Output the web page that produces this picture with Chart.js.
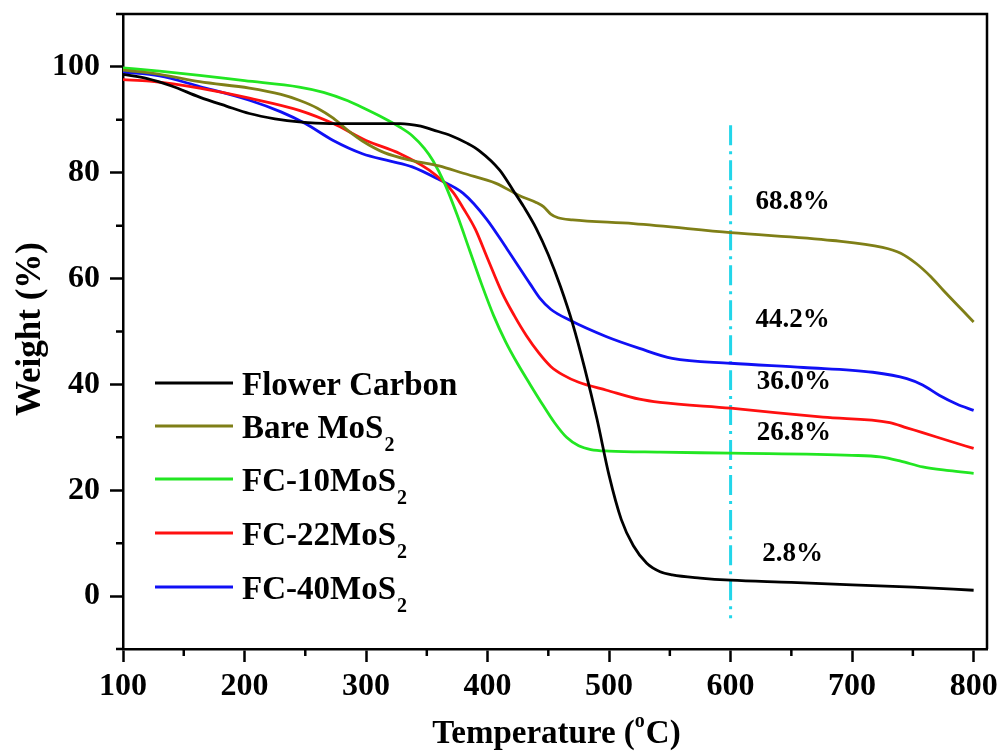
<!DOCTYPE html>
<html>
<head>
<meta charset="utf-8">
<script src="https://cdn.jsdelivr.net/npm/chart.js@4.4.1/dist/chart.umd.min.js"></script>
<style>
  html, body { margin: 0; padding: 0; background: #fff; }
  #tga { display: block; }
</style>
</head>
<body>
<canvas id="tga" width="1001" height="751"></canvas>
<script>
// TGA curves (temperature in degC, weight in %)
const flowerCarbonT = [100,120,140,163,185,204,225,245,270,300,328,345,355,370,383,393,410,421,430,440,450,460,470,480,490,500,510,520,531,542,552,575,600,650,700,750,800];
const flowerCarbonW = [98.6,97.8,96.4,94.3,92.6,91.2,90.2,89.6,89.3,89.3,89.3,88.8,88.1,87.0,85.6,84.2,80.5,76.7,73.5,69.5,64.5,58.5,51.5,43.0,33.5,22.8,14.5,9.5,6.2,4.6,4.0,3.4,3.0,2.6,2.1,1.7,1.1];

const bareMoS2T = [100,130,163,204,230,245,260,273,285,297,315,338,360,380,407,426,440,446,452,458,470,520,600,684,725,740,753,765,775,790,800];
const bareMoS2W = [99.4,98.6,97.2,96.0,94.8,93.7,92.2,90.3,88.0,86.0,83.8,82.3,81.3,79.9,78.0,75.7,74.4,73.6,72.2,71.5,71.1,70.4,68.7,67.2,65.9,64.8,62.8,60.3,57.8,54.2,51.8];

const fc10T = [100,130,163,200,245,265,285,300,314,328,338,348,355,365,375,385,395,405,415,425,435,445,455,465,475,485,500,542,600,700,723,740,758,780,800];
const fc10W = [99.8,99.2,98.4,97.4,96.2,95.2,93.6,92.0,90.4,88.6,87.0,84.6,82.3,77.8,72.0,65.5,59.0,53.0,48.0,43.8,40.0,36.3,32.8,30.0,28.4,27.7,27.4,27.2,27.0,26.6,26.3,25.5,24.4,23.7,23.2];

const fc22T = [100,122,163,204,245,273,300,328,352,365,372,380,390,400,412,422,432,442,452,462,475,498,525,542,600,676,731,745,758,780,800];
const fc22W = [97.6,97.3,96.0,94.1,91.8,89.3,86.1,83.6,80.5,78.0,76.2,73.3,69.3,63.8,57.3,53.0,49.2,46.0,43.4,41.8,40.4,38.9,37.2,36.6,35.5,33.8,32.8,31.8,30.9,29.3,27.9];

const fc40T = [100,130,163,204,230,250,273,297,320,338,360,380,399,416,435,443,452,467,498,525,552,600,660,717,745,758,772,786,800];
const fc40W = [99.0,98.3,96.3,93.7,91.5,89.3,86.1,83.6,82.2,81.1,78.7,76.1,71.3,65.6,59.0,56.3,54.2,52.2,49.0,46.8,44.9,44.0,43.2,42.3,41.1,39.9,37.9,36.3,35.1];

const seriesNames = ['Flower Carbon', 'Bare MoS2', 'FC-10MoS2', 'FC-22MoS2', 'FC-40MoS2'];
const seriesColors = ['#000000', '#7f7f17', '#22e622', '#ff1010', '#1010f5'];

// residue read at 600 degC
const markerT = [600, 600];
const markerW = [89, -4.2];
const residueText = ['68.8%', '44.2%', '36.0%', '26.8%', '2.8%'];

const xMajor = [100, 200, 300, 400, 500, 600, 700, 800];
const xMinor = [150, 250, 350, 450, 550, 650, 750];
const yMajor = [0, 20, 40, 60, 80, 100];
const yMinor = [-10, 10, 30, 50, 70, 90, 110];

const FONT = '"Liberation Serif", "Times New Roman", serif';

function toPoints(xs, ys) {
  return xs.map((x, i) => ({ x: x, y: ys[i] }));
}

const curves = [
  [flowerCarbonT, flowerCarbonW],
  [bareMoS2T, bareMoS2W],
  [fc10T, fc10W],
  [fc22T, fc22W],
  [fc40T, fc40W]
].map((c, i) => ({
  label: seriesNames[i],
  data: toPoints(c[0], c[1]),
  borderColor: seriesColors[i],
  borderWidth: 2.8,
  pointRadius: 0,
  cubicInterpolationMode: 'monotone',
  fill: false
}));

const markerLine = {
  label: 'marker',
  data: toPoints(markerT, markerW),
  borderColor: '#22d6ea',
  borderWidth: 3,
  borderDash: [20, 6, 3, 6],
  pointRadius: 0,
  fill: false
};

// text with a "2" subscript for MoS2
function drawSubText(ctx, text, x, y, size, subSize, drop) {
  ctx.textAlign = 'left';
  ctx.textBaseline = 'alphabetic';
  let main = text, sub = '';
  if (/MoS2$/.test(text)) { main = text.slice(0, -1); sub = '2'; }
  ctx.font = 'bold ' + size + 'px ' + FONT;
  ctx.fillText(main, x, y);
  if (sub) {
    const w = ctx.measureText(main).width;
    ctx.font = 'bold ' + subSize + 'px ' + FONT;
    ctx.fillText(sub, x + w + 1, y + drop);
  }
}

const decorPlugin = {
  id: 'decor',
  afterDraw(chart) {
    const ctx = chart.ctx;
    const area = chart.chartArea;
    const xs = chart.scales.x, ys = chart.scales.y;
    ctx.save();

    // top and right frame
    ctx.strokeStyle = '#000';
    ctx.lineWidth = 2.5;
    ctx.beginPath();
    ctx.moveTo(area.left, area.top);
    ctx.lineTo(area.right, area.top);
    ctx.lineTo(area.right, area.bottom);
    ctx.stroke();

    // minor ticks
    ctx.beginPath();
    xMinor.forEach(v => {
      const px = xs.getPixelForValue(v);
      ctx.moveTo(px, area.bottom);
      ctx.lineTo(px, area.bottom + 7);
    });
    yMinor.forEach(v => {
      const py = ys.getPixelForValue(v);
      ctx.moveTo(area.left, py);
      ctx.lineTo(area.left - 7, py);
    });
    ctx.stroke();

    // legend
    const rowY = [383, 426, 479, 533, 587];
    chart.data.datasets.slice(0, 5).forEach((ds, i) => {
      ctx.strokeStyle = ds.borderColor;
      ctx.lineWidth = 3;
      ctx.beginPath();
      ctx.moveTo(155, rowY[i]);
      ctx.lineTo(233, rowY[i]);
      ctx.stroke();
      ctx.fillStyle = '#000';
      drawSubText(ctx, ds.label, 242, rowY[i] + 12, 33, 20, 13);
    });

    // residue labels
    const labelPos = [[651, 74.4], [651, 52.2], [652, 40.4], [652, 30.8], [651, 7.9]];
    ctx.fillStyle = '#000';
    ctx.font = 'bold 27px ' + FONT;
    ctx.textAlign = 'center';
    ctx.textBaseline = 'middle';
    residueText.forEach((t, i) => {
      ctx.fillText(t, xs.getPixelForValue(labelPos[i][0]), ys.getPixelForValue(labelPos[i][1]));
    });

    // x title with superscript o
    const p1 = 'Temperature (', p2 = 'o', p3 = 'C)';
    ctx.textAlign = 'left';
    ctx.textBaseline = 'alphabetic';
    ctx.font = 'bold 33px ' + FONT;
    const w1 = ctx.measureText(p1).width, w3 = ctx.measureText(p3).width;
    ctx.font = 'bold 20px ' + FONT;
    const w2 = ctx.measureText(p2).width;
    let x0 = 556 - (w1 + w2 + w3) / 2;
    ctx.font = 'bold 33px ' + FONT;
    ctx.fillText(p1, x0, 743);
    ctx.font = 'bold 20px ' + FONT;
    ctx.fillText(p2, x0 + w1, 727);
    ctx.font = 'bold 33px ' + FONT;
    ctx.fillText(p3, x0 + w1 + w2 + 1, 743);

    // y title
    ctx.translate(40, 329);
    ctx.rotate(-Math.PI / 2);
    ctx.font = 'bold 35px ' + FONT;
    ctx.textAlign = 'center';
    ctx.fillText('Weight (%)', 0, 0);

    ctx.restore();
  }
};

new Chart(document.getElementById('tga'), {
  type: 'line',
  data: { datasets: curves.concat([markerLine]) },
  options: {
    responsive: false,
    animation: false,
    devicePixelRatio: 1,
    layout: { padding: { top: 14, right: 14, left: 0, bottom: 0 } },
    plugins: {
      legend: { display: false },
      tooltip: { enabled: false }
    },
    scales: {
      x: {
        type: 'linear',
        min: 100,
        max: 811,
        afterBuildTicks: s => { s.ticks = xMajor.map(v => ({ value: v })); },
        afterFit: s => { s.height = 102; s.paddingLeft = 0; s.paddingRight = 0; },
        border: { color: '#000', width: 2.5 },
        grid: { drawOnChartArea: false, tickLength: 13, tickWidth: 2.5, tickColor: '#000' },
        ticks: {
          color: '#000',
          padding: 6,
          maxRotation: 0,
          font: { family: FONT, size: 32, weight: 'bold' }
        }
      },
      y: {
        type: 'linear',
        min: -10,
        max: 110,
        afterBuildTicks: s => { s.ticks = yMajor.map(v => ({ value: v })); },
        afterFit: s => { s.width = 123; s.paddingTop = 0; s.paddingBottom = 0; },
        border: { color: '#000', width: 2.5 },
        grid: { drawOnChartArea: false, tickLength: 13, tickWidth: 2.5, tickColor: '#000' },
        ticks: {
          color: '#000',
          padding: 10,
          font: { family: FONT, size: 32, weight: 'bold' }
        }
      }
    }
  },
  plugins: [decorPlugin]
});
</script>
</body>
</html>
